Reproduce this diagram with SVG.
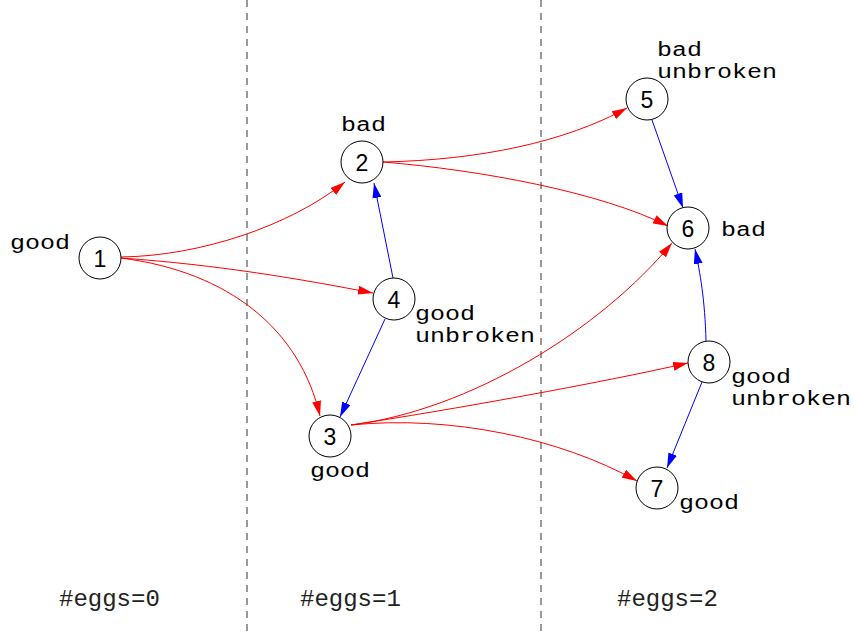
<svg xmlns="http://www.w3.org/2000/svg" width="854" height="637" viewBox="0 0 854 637">
  <defs>
    <marker id="arrow-red" markerUnits="userSpaceOnUse" markerWidth="15" markerHeight="9" refX="15" refY="4.5" orient="auto">
      <path d="M0,0 L15,4.5 L0,9 z" fill="#ff0000"/>
    </marker>
    <marker id="arrow-blue" markerUnits="userSpaceOnUse" markerWidth="15" markerHeight="9" refX="15" refY="4.5" orient="auto">
      <path d="M0,0 L15,4.5 L0,9 z" fill="#0000ff"/>
    </marker>
  </defs>
  <style>
    .node circle { fill: #ffffff; stroke: #000000; stroke-width: 1; }
    .num { font-family: "Liberation Sans", Arial, sans-serif; font-size: 23px; fill: #000; text-anchor: middle; dominant-baseline: central; }
    .lbl { font-family: "Liberation Mono", "Courier New", monospace; font-size: 20px; fill: #000; }
    .foot { font-family: "Liberation Mono", "Courier New", monospace; font-size: 24px; fill: #222; }
    .red { fill: none; stroke: #ff0000; stroke-width: 1; marker-end: url(#arrow-red); }
    .blue { fill: none; stroke: #0000ff; stroke-width: 1; marker-end: url(#arrow-blue); }
    .sep { stroke: #333; stroke-width: 1; stroke-dasharray: 7 6; }
  </style>
  <rect width="854" height="637" fill="#ffffff"/>

  <!-- column separators -->
  <g id="separators">
    <line class="sep" x1="247" y1="0" x2="247" y2="637"/>
    <line class="sep" x1="541" y1="0" x2="541" y2="637"/>
  </g>

  <!-- connectors -->
  <g id="edges">
    <path class="red" d="M121,257 C200,256 290,226 345,182"/>
    <path class="red" d="M121,258 C220,265 300,279 373,293"/>
    <path class="red" d="M121,258 C230,272 300,330 320,416"/>
    <path class="red" d="M383,162 C480,160 565,142 627,108"/>
    <path class="red" d="M383,162 C480,170 600,192 668,226"/>
    <path class="red" d="M351,425 C470,410 600,330 672,243"/>
    <path class="red" d="M351,425 C450,410 600,383 688,363"/>
    <path class="red" d="M351,425 C450,415 560,438 637,481"/>
    <path class="blue" d="M393,278 L374,183"/>
    <path class="blue" d="M385,319 L340,417"/>
    <path class="blue" d="M652,120 L683,208"/>
    <path class="blue" d="M706,341 C705,300 700,272 695,249"/>
    <path class="blue" d="M702,382 L667,468"/>
  </g>

  <!-- states; labels are set in a widened monospace (scaleX 1.25) -->
  <g id="node1" class="node">
    <circle cx="100" cy="258" r="21"/>
    <text class="num" x="100" y="259">1</text>
    <text class="lbl" transform="translate(10,249) scale(1.25,1)">good</text>
  </g>
  <g id="node2" class="node">
    <circle cx="362" cy="162" r="21"/>
    <text class="num" x="362" y="163">2</text>
    <text class="lbl" transform="translate(341,131) scale(1.25,1)">bad</text>
  </g>
  <g id="node3" class="node">
    <circle cx="330" cy="436" r="21"/>
    <text class="num" x="330" y="437">3</text>
    <text class="lbl" transform="translate(310,477) scale(1.25,1)">good</text>
  </g>
  <g id="node4" class="node">
    <circle cx="394" cy="299" r="21"/>
    <text class="num" x="394" y="300">4</text>
    <text class="lbl" transform="translate(415,320) scale(1.25,1)">good</text>
    <text class="lbl" transform="translate(415,342) scale(1.25,1)">unbroken</text>
  </g>
  <g id="node5" class="node">
    <circle cx="647" cy="99" r="21"/>
    <text class="num" x="647" y="100">5</text>
    <text class="lbl" transform="translate(657,56) scale(1.25,1)">bad</text>
    <text class="lbl" transform="translate(657,78) scale(1.25,1)">unbroken</text>
  </g>
  <g id="node6" class="node">
    <circle cx="688" cy="228" r="21"/>
    <text class="num" x="688" y="229">6</text>
    <text class="lbl" transform="translate(721,236) scale(1.25,1)">bad</text>
  </g>
  <g id="node7" class="node">
    <circle cx="657" cy="488" r="21"/>
    <text class="num" x="657" y="489">7</text>
    <text class="lbl" transform="translate(679,509) scale(1.25,1)">good</text>
  </g>
  <g id="node8" class="node">
    <circle cx="709" cy="362" r="21"/>
    <text class="num" x="709" y="363">8</text>
    <text class="lbl" transform="translate(731,383) scale(1.25,1)">good</text>
    <text class="lbl" transform="translate(731,405) scale(1.25,1)">unbroken</text>
  </g>

  <!-- column captions -->
  <g id="captions">
    <text class="foot" x="59" y="606">#eggs=0</text>
    <text class="foot" x="300" y="606">#eggs=1</text>
    <text class="foot" x="617" y="606">#eggs=2</text>
  </g>
</svg>
